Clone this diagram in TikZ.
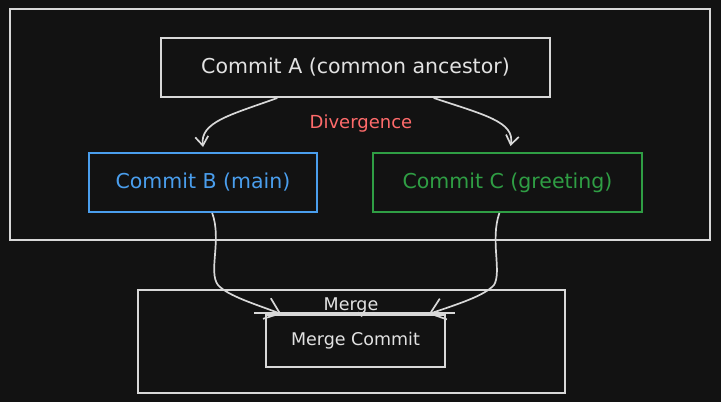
\documentclass[tikz,border=0pt]{standalone}
\usepackage{fontspec}
\setmainfont{DejaVu Sans}
\usetikzlibrary{arrows.meta,calc}
\definecolor{bg}{HTML}{121212}
\definecolor{stroke}{HTML}{D8D8D8}
\definecolor{txt}{HTML}{E2E2E2}
\definecolor{bblue}{HTML}{4A9EED}
\definecolor{bgreen}{HTML}{2F9E44}
\definecolor{bred}{HTML}{FF6B6B}
\tikzset{
  sk/.style={draw=stroke,line width=2pt},
  boxnode/.style={draw,line width=2pt,minimum height=59pt,inner sep=0pt,font=\fontsize{20.5}{24}\selectfont,text=txt},
  lbl/.style={font=\fontsize{18}{21}\selectfont,inner sep=0pt},
  arr/.style={draw=stroke,line width=1.7pt,-{Straight Barb[length=9pt,width=13pt,line width=1.7pt]}},
  arrbig/.style={draw=stroke,line width=1.7pt,-{Straight Barb[length=14pt,width=22pt,line width=1.7pt]}},
  arrsmall/.style={draw=stroke,line width=1.4pt,-{Straight Barb[length=4pt,width=7pt,line width=1.4pt]}},
}
\begin{document}
\begin{tikzpicture}[x=1pt,y=-1pt]
\fill[bg] (0,0) rectangle (721,402);
\useasboundingbox (0,0) rectangle (721,402);
% groups
\node[sk,minimum width=700pt,minimum height=231pt,inner sep=0pt] (outer) at (360,124.5) {};
\node[sk,minimum width=427pt,minimum height=103pt,inner sep=0pt] (bottom) at (351.5,341) {};
% commits
\node[boxnode,draw=stroke,minimum width=389pt] (A) at (355.5,67.5) {Commit A (common ancestor)};
\node[boxnode,draw=bblue,text=bblue,minimum width=228pt] (B) at (203,182.5) {Commit B (main)};
\node[boxnode,draw=bgreen,text=bgreen,minimum width=269pt] (C) at (507.5,182.5) {Commit C (greeting)};
\node[boxnode,draw=stroke,minimum width=179pt,minimum height=52pt,font=\fontsize{17.5}{21}\selectfont] (MC) at (355.5,341) {Merge Commit};
% labels
\node[lbl,text=bred] (div) at (361,124) {Divergence};
\node[lbl,text=txt,font=\fontsize{17.5}{21}\selectfont] (ml) at (351,306) {Merge};
% extended top edge
\draw[sk] ([xshift=-11pt,yshift=1pt]MC.north west) -- ([xshift=9pt,yshift=1pt]MC.north east);
% arrows
\draw[arr] ($(A.south west)!0.30!(A.south east)$) .. controls (230,115) and (200,122) .. ([yshift=5pt]B.north);
\draw[arr] ($(A.south west)!0.70!(A.south east)$) .. controls (485,115) and (515,122) .. ([xshift=3pt,yshift=6pt]C.north);
\draw[arrbig] ($(B.south west)!0.54!(B.south east)$) .. controls (222,240) and (208,272) .. (218,285)
   .. controls (228,296) and (255,304) .. ($(MC.north west)!0.09!(MC.north east)$);
\draw[arrbig] ($(C.south west)!0.47!(C.south east)$) .. controls (490,240) and (502,272) .. (494,285)
   .. controls (484,296) and (458,304) .. ($(MC.north west)!0.905!(MC.north east)$);
\draw[arrsmall] ([xshift=10pt,yshift=1pt]ml.south) -- ([xshift=6.5pt,yshift=-3pt]MC.north);
\end{tikzpicture}
\end{document}
